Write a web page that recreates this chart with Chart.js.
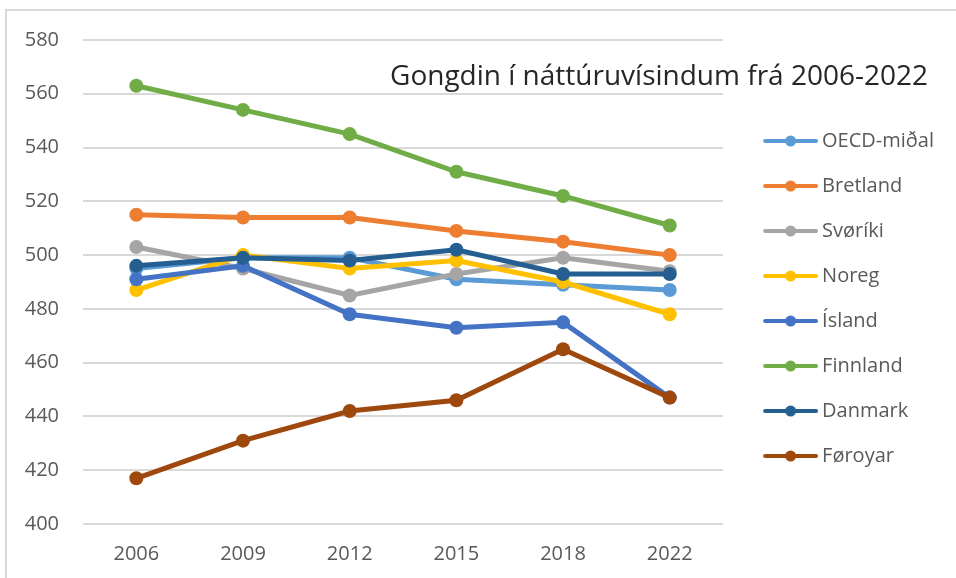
<!DOCTYPE html>
<html lang="fo">
<head>
    <meta charset="UTF-8">
    <title>Gongdin í náttúruvísindum frá 2006-2022</title>
    <script src="https://cdn.jsdelivr.net/npm/chart.js"></script>
    <style>
        body { margin: 0; background: #fff; overflow: hidden; }
        .chart-box {
            position: absolute;
            left: 5px;
            top: 9px;
            width: 949px;
            height: 567px;
            border-top: 2px solid #d9d9d9;
            border-left: 2px solid #d9d9d9;
        }
    </style>
</head>
<body>
    <div class="chart-box">
        <canvas id="scienceChart"></canvas>
    </div>

    <script>
        // PISA science scores
        const years = ['2006', '2009', '2012', '2015', '2018', '2022'];
        const countries = ['OECD-miðal', 'Bretland', 'Svøríki', 'Noreg', 'Ísland', 'Finnland', 'Danmark', 'Føroyar'];

        const oecdData = [495, 499, 499, 491, 489, 487];
        const bretlandData = [515, 514, 514, 509, 505, 500];
        const svorikiData = [503, 495, 485, 493, 499, 494];
        const noregData = [487, 500, 495, 498, 490, 478];
        const islandData = [491, 496, 478, 473, 475, 447];
        const finnlandData = [563, 554, 545, 531, 522, 511];
        const danmarkData = [496, 499, 498, 502, 493, 493];
        const foroyarData = [417, 431, 442, 446, 465, 447];

        const seriesData = [oecdData, bretlandData, svorikiData, noregData, islandData, finnlandData, danmarkData, foroyarData];
        const colors = ['#5B9BD5', '#ED7D31', '#A5A5A5', '#FFC000', '#4472C4', '#70AD47', '#255E91', '#9E480E'];

        // legend marker: short line with a dot in the middle
        function makeIcon(color) {
            const c = document.createElement('canvas');
            c.width = 76;
            c.height = 14;
            const g = c.getContext('2d');
            g.strokeStyle = color;
            g.lineWidth = 4;
            g.lineCap = 'round';
            g.beginPath();
            g.moveTo(23, 7);
            g.lineTo(74, 7);
            g.stroke();
            g.fillStyle = color;
            g.beginPath();
            g.arc(48.5, 7, 5.5, 0, Math.PI * 2);
            g.fill();
            return c;
        }
        const icons = colors.map(makeIcon);

        const datasets = countries.map((name, i) => ({
            label: name,
            data: seriesData[i],
            borderColor: colors[i],
            backgroundColor: colors[i],
            borderWidth: 5,
            pointRadius: 7,
            pointBorderWidth: 0,
            pointBackgroundColor: colors[i],
            tension: 0,
            order: countries.length - i   // later series on top, like Excel
        }));

        // title sits inside the plot, top right
        const insideTitle = {
            id: 'insideTitle',
            afterDraw(chart) {
                const ctx = chart.ctx;
                ctx.save();
                ctx.font = '28px "Open Sans"';
                ctx.fillStyle = '#262626';
                ctx.textAlign = 'right';
                ctx.textBaseline = 'alphabetic';
                ctx.fillText('Gongdin í náttúruvísindum frá 2006-2022', 921, 74);
                ctx.restore();
            }
        };

        const ctx = document.getElementById('scienceChart').getContext('2d');
        const scienceChart = new Chart(ctx, {
            type: 'line',
            data: { labels: years, datasets: datasets },
            plugins: [insideTitle],
            options: {
                responsive: true,
                maintainAspectRatio: false,
                animation: false,
                layout: { padding: { top: 19, bottom: 11, right: 12, left: 0 } },
                scales: {
                    x: {
                        offset: true,
                        grid: { display: false, drawTicks: false },
                        border: { display: false },
                        ticks: { font: { family: 'Open Sans', size: 20 }, color: '#595959', padding: 18 },
                        afterFit(scale) { scale.height = 43; }
                    },
                    y: {
                        min: 400,
                        max: 580,
                        ticks: { stepSize: 20, font: { family: 'Open Sans', size: 20 }, color: '#595959', padding: 24 },
                        grid: { color: '#d9d9d9', lineWidth: 2, drawTicks: false },
                        border: { display: false },
                        afterFit(scale) {
                            scale.width = 76;
                            scale.paddingTop = 29;
                            scale.paddingBottom = 0;
                        }
                    }
                },
                plugins: {
                    legend: {
                        position: 'right',
                        labels: {
                            usePointStyle: true,
                            pointStyleWidth: 64,
                            padding: 25,
                            color: '#595959',
                            font: { family: 'Open Sans', size: 20 },
                            generateLabels(chart) {
                                const items = Chart.defaults.plugins.legend.labels.generateLabels(chart);
                                items.sort((a, b) => a.datasetIndex - b.datasetIndex);
                                items.forEach(it => { it.pointStyle = icons[it.datasetIndex]; });
                                return items;
                            }
                        }
                    },
                    title: { display: false },
                    tooltip: { enabled: false }
                }
            }
        });
    </script>
</body>
</html>
